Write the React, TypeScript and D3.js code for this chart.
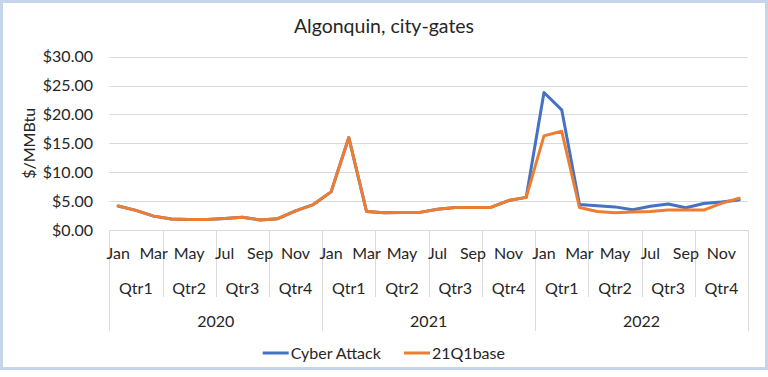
import React from "react";
import * as d3 from "d3";

const monthNames = ["Jan","Feb","Mar","Apr","May","Jun","Jul","Aug","Sep","Oct","Nov","Dec"];
const years = ["2020", "2021", "2022"];
const quarters = ["Qtr1", "Qtr2", "Qtr3", "Qtr4"];
const cyberAttack = [
  4.15, 3.4, 2.4, 1.9, 1.8, 1.8, 2.0, 2.2, 1.75, 1.95, 3.3, 4.4,
  6.6, 16.0, 3.2, 3.0, 3.05, 3.05, 3.6, 3.9, 3.9, 3.9, 5.1, 5.65,
  23.8, 20.8, 4.4, 4.2, 4.0, 3.5, 4.1, 4.5, 3.85, 4.6, 4.85, 5.2,
];
const base21Q1 = [
  4.15, 3.4, 2.4, 1.9, 1.8, 1.8, 2.0, 2.2, 1.75, 1.95, 3.3, 4.4,
  6.6, 16.0, 3.2, 3.0, 3.05, 3.05, 3.6, 3.9, 3.9, 3.9, 5.1, 5.65,
  16.3, 17.1, 3.9, 3.2, 3.0, 3.1, 3.2, 3.45, 3.45, 3.45, 4.6, 5.5,
];
const yTicks = [0, 5, 10, 15, 20, 25, 30];
const seriesNames = ["Cyber Attack", "21Q1base"];
const seriesColors = ["#4472C4", "#ED7D31"];

const W = 768, H = 377;
const FONT = "Lato, 'Open Sans', sans-serif";

export default function App() {
  const n = years.length * 12;
  const idx = d3.range(n);
  const x = d3.scaleBand<number>().domain(idx).range([109.3, 748]);
  const y = d3.scaleLinear().domain([0, 30]).range([230, 56.7]);
  const cx = (i: number) => (x(i) as number) + x.bandwidth() / 2;
  const line = d3.line<number>().x((_, i) => cx(i)).y((d) => y(d));
  const gridColor = "#d9d9d9";
  const textColor = "#262626";
  const bw = x.bandwidth();
  const left = x.range()[0];
  const fs = 16;

  const quarterLines = d3.range(0, n + 1, 3);
  return (
    <svg width={W} height={H} style={{ position: "absolute", left: 0, top: 0, background: "#fff" }} fontFamily={FONT}>
      <rect x={1.5} y={1.5} width={765} height={367} fill="#fff" stroke="#c6d5ea" strokeWidth={3} />
      <text x={384} y={33} textAnchor="middle" fontSize={19.5} fill={textColor}>Algonquin, city-gates</text>
      {yTicks.map((t) => (
        <g key={t}>
          <line x1={left} x2={748} y1={Math.round(y(t)) + 0.5} y2={Math.round(y(t)) + 0.5} stroke={gridColor} strokeWidth={1} />
          <text x={93} y={y(t)} dy="0.35em" textAnchor="end" fontSize={fs} fill={textColor}>
            {d3.format("$.2f")(t)}
          </text>
        </g>
      ))}
      <text transform={`translate(29,${(y(0) + y(30)) / 2}) rotate(-90)`} textAnchor="middle" dy="0.35em" fontSize={fs} fill={textColor}>$/MMBtu</text>
      {quarterLines.map((q) => {
        const xx = Math.round(left + q * bw) + 0.5;
        const isYear = q % 12 === 0;
        return <line key={q} x1={xx} x2={xx} y1={230} y2={isYear ? 331 : 297} stroke={gridColor} strokeWidth={1} />;
      })}
      {idx.filter((i) => i % 2 === 0).map((i) => (
        <text key={i} x={cx(i)} y={253} dy="0.35em" textAnchor="middle" fontSize={fs} fill={textColor}>{monthNames[i % 12]}</text>
      ))}
      {d3.range(n / 3).map((q) => (
        <text key={q} x={left + (q * 3 + 1.5) * bw} y={288} dy="0.35em" textAnchor="middle" fontSize={fs} fill={textColor}>{quarters[q % 4]}</text>
      ))}
      {years.map((yr, k) => (
        <text key={yr} x={left + (k * 12 + 6) * bw} y={321} dy="0.35em" textAnchor="middle" fontSize={fs} fill={textColor}>{yr}</text>
      ))}
      {[cyberAttack, base21Q1].map((s, k) => (
        <path key={k} d={line(s) || ""} fill="none" stroke={seriesColors[k]} strokeWidth={3} strokeLinejoin="round" strokeLinecap="round" />
      ))}
      {seriesNames.map((nm, k) => {
        const lx = k === 0 ? 262.7 : 404;
        return (
          <g key={nm}>
            <line x1={lx} x2={lx + 26} y1={353} y2={353} stroke={seriesColors[k]} strokeWidth={3} />
            <text x={lx + 28} y={353} dy="0.35em" fontSize={fs} fill={textColor}>{nm}</text>
          </g>
        );
      })}
    </svg>
  );
}
